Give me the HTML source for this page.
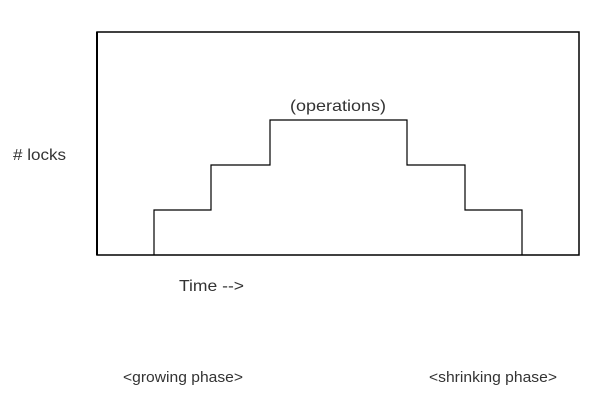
<!DOCTYPE html>
<html><head><style>html,body{margin:0;padding:0;background:#fff;overflow:hidden}</style></head><body>
<svg width="600" height="416" viewBox="0 0 600 416" xmlns="http://www.w3.org/2000/svg" style="display:block">
<rect x="0" y="0" width="600" height="416" fill="#fff"/>
<rect x="97" y="32" width="482" height="223" fill="none" stroke="#000" stroke-width="1.5"/>
<line x1="97" y1="32" x2="97" y2="255" stroke="#000" stroke-width="2"/>
<polyline points="154,255 154,210 211,210 211,165 270,165 270,120 407,120 407,165 465,165 465,210 522,210 522,255" fill="none" stroke="#000" stroke-width="1.2"/>
<g font-family="Liberation Sans, sans-serif" font-size="16" fill="#333">
<text x="290" y="111" textLength="96" lengthAdjust="spacingAndGlyphs">(operations)</text>
<text x="13" y="160" textLength="53" lengthAdjust="spacingAndGlyphs"># locks</text>
<text x="179" y="291" textLength="65" lengthAdjust="spacingAndGlyphs">Time --&gt;</text>
<text x="123" y="382" font-size="15" textLength="120" lengthAdjust="spacingAndGlyphs">&lt;growing phase&gt;</text>
<text x="429" y="382" font-size="15" textLength="128" lengthAdjust="spacingAndGlyphs">&lt;shrinking phase&gt;</text>
</g>
</svg>
</body></html>
